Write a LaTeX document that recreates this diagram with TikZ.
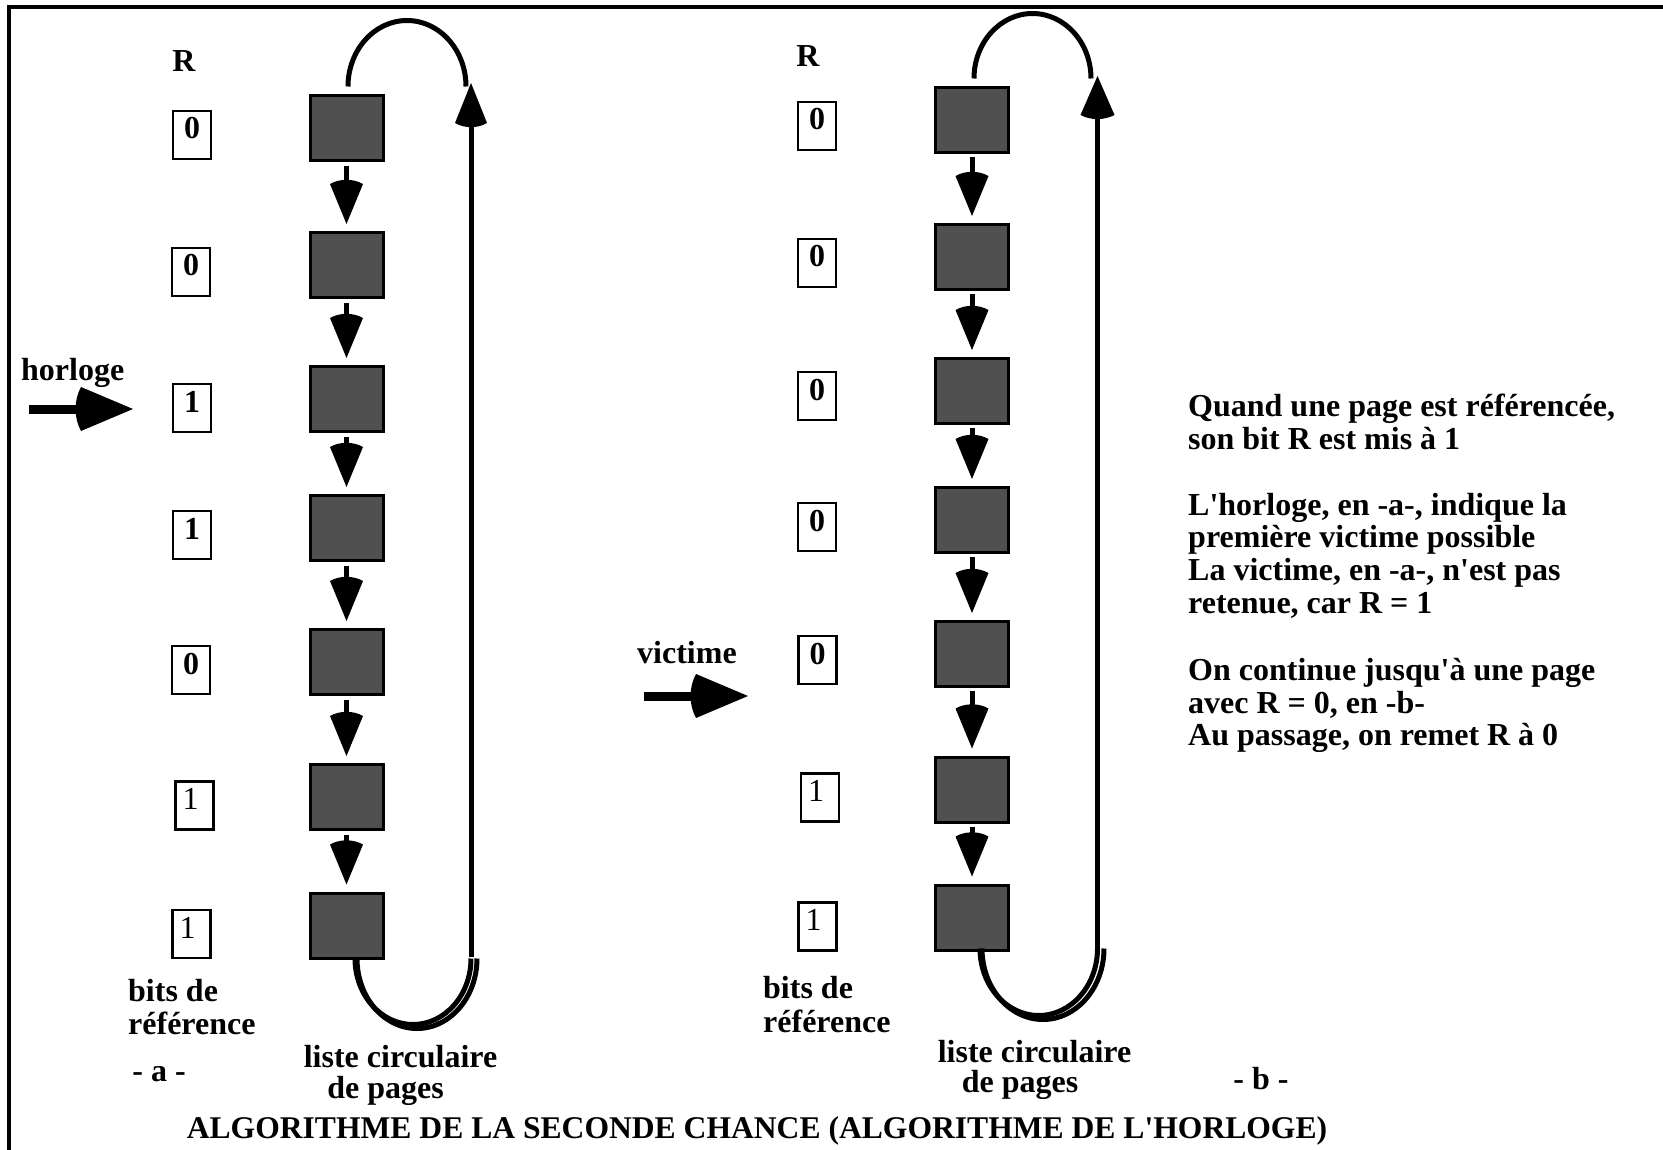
\documentclass[tikz,border=0pt]{standalone}
\usepackage{fontspec}
\setmainfont{Liberation Serif}[Ligatures=TeXOff]
\usetikzlibrary{arrows.meta}

% arrow head: a triangle whose back bulges towards the tail
\pgfdeclarearrow{
  name = Spade,
  parameters = {\the\pgfarrowlength,\the\pgfarrowwidth},
  setup code = {
    \pgfarrowssettipend{0pt}
    \pgfarrowssetlineend{-\pgfarrowlength}
    \pgfarrowssetbackend{-1.12\pgfarrowlength}
    \pgfarrowssavethe\pgfarrowlength
    \pgfarrowssavethe\pgfarrowwidth
  },
  drawing code = {
    \pgfpathmoveto{\pgfqpoint{0pt}{0pt}}
    \pgfpathlineto{\pgfpoint{-\pgfarrowlength}{.5\pgfarrowwidth}}
    \pgfpathcurveto{\pgfpoint{-1.14\pgfarrowlength}{.2\pgfarrowwidth}}{\pgfpoint{-1.14\pgfarrowlength}{-.2\pgfarrowwidth}}{\pgfpoint{-\pgfarrowlength}{-.5\pgfarrowwidth}}
    \pgfpathclose
    \pgfusepathqfill
  },
  defaults = {length = 40pt, width = 33pt}
}

\definecolor{pagefill}{RGB}{80,80,80}
\newcommand\txtbf{\fontsize{32}{33}\selectfont\bfseries}
\newcommand\txtrm{\fontsize{32}{33}\selectfont}
\newcommand\titlebf{\fontsize{31.6}{33}\selectfont\bfseries}

\begin{document}
\begin{tikzpicture}[x=1pt,y=-1pt,
  pagebox/.style={draw=black, line width=3pt, fill=pagefill,
    minimum width=73pt, minimum height=65pt, inner sep=0pt},
  bitbox/.style={draw=black, line width=2.6pt, minimum width=38pt,
    minimum height=48pt, inner sep=0pt, text height=28pt, text depth=20pt,
    font=\txtbf},
  bitreg/.style={bitbox, font=\txtrm},
  link/.style={line width=5pt, -{Spade[length=40pt,width=33pt]}},
  loopline/.style={line width=5pt},
  pointer/.style={line width=9pt, -{Spade[length=52pt,width=44pt]}},
  lbl/.style={inner sep=0pt, font=\txtbf},
  note/.style={inner sep=0pt, anchor=base west, font=\txtbf}
]
\useasboundingbox (0,0) rectangle (1663,1150);

% frame
\draw[line width=3.5pt] (9,1160) -- (9,7) -- (1670,7);

% ---------- part a ----------
\node[lbl, anchor=base] (Ra) at (184,71.5) {R};

\node[pagebox] (a1) at (346.5,128) {};
\node[pagebox] (a2) at (346.5,265) {};
\node[pagebox] (a3) at (346.5,399) {};
\node[pagebox] (a4) at (346.5,528) {};
\node[pagebox] (a5) at (346.5,662) {};
\node[pagebox] (a6) at (346.5,797) {};
\node[pagebox] (a7) at (346.5,925.5) {};

\node[bitbox] (ra1) at (192,135) {0};
\node[bitbox] (ra2) at (191,272) {0};
\node[bitbox] (ra3) at (192,408) {1};
\node[bitbox] (ra4) at (192,535) {1};
\node[bitbox] (ra5) at (191,670) {0};
\node[bitreg] (ra6) at (194.5,805.5) {\kern-8pt 1};
\node[bitreg] (ra7) at (191.5,934) {\kern-8pt 1};

\foreach \i/\j in {1/2,2/3,3/4,4/5,5/6,6/7}
  \draw[link] ([yshift=-4pt]a\i.south) -- ([yshift=7pt]a\j.north);

% circular return of list a
\coordinate (la-bot) at (471,957);
\coordinate (la-top) at (471,83);
\draw[loopline] ([xshift=1.5pt,yshift=7.5pt]a1.north)
  arc[start angle=180, end angle=0, x radius=59pt, y radius=66pt];
\draw[loopline, -{Spade[length=40pt,width=32pt]}] (la-bot) -- (la-top);
\draw[loopline] ([xshift=8.5pt,yshift=1pt]a7.south)
  arc[start angle=180, end angle=360, x radius=58pt, y radius=66pt];
\draw[loopline] ([xshift=10.5pt,yshift=1pt]a7.south)
  arc[start angle=180, end angle=360, x radius=60pt, y radius=70pt];

\node[lbl, anchor=base west] (horl) at (21,380) {horloge};
\coordinate (hs) at (29,409);
\coordinate (he) at (133,409);
\draw[pointer] (hs) -- (he);

\node[lbl, anchor=base west] (bitsa1) at (128,1001) {bits de};
\node[lbl, anchor=base west] (bitsa2) at (128,1034) {référence};
\node[lbl, anchor=base] (lista1) at (400.5,1067) {liste circulaire};
\node[lbl, anchor=base] (lista2) at (385.5,1098) {de pages};
\node[lbl, anchor=base] (parta) at (159,1081) {- a -};

% ---------- part b ----------
\node[lbl, anchor=base] (Rb) at (808,67) {R};

\node[pagebox] (b1) at (972,120) {};
\node[pagebox] (b2) at (972,257) {};
\node[pagebox] (b3) at (972,391) {};
\node[pagebox] (b4) at (972,520) {};
\node[pagebox] (b5) at (972,654) {};
\node[pagebox] (b6) at (972,789.5) {};
\node[pagebox] (b7) at (972,917.5) {};

\node[bitbox] (rb1) at (817,126) {0};
\node[bitbox] (rb2) at (817,263) {0};
\node[bitbox] (rb3) at (817,396) {0};
\node[bitbox] (rb4) at (817,527) {0};
\node[bitbox] (rb5) at (817.5,660) {0};
\node[bitreg] (rb6) at (820,797.5) {\kern-8pt 1};
\node[bitreg] (rb7) at (817.5,926.5) {\kern-8pt 1};

\foreach \i/\j in {1/2,2/3,3/4,4/5,5/6,6/7}
  \draw[link] ([yshift=-3pt]b\i.south) -- ([yshift=7pt]b\j.north);

% circular return of list b
\coordinate (lb-bot) at (1097.5,949);
\coordinate (lb-top) at (1097.5,76);
\draw[loopline] ([xshift=2pt,yshift=7.5pt]b1.north)
  arc[start angle=180, end angle=0, x radius=58.5pt, y radius=65pt];
\draw[loopline, -{Spade[length=39pt,width=34pt]}] (lb-bot) -- (lb-top);
\draw[loopline] ([xshift=8pt,yshift=3pt]b7.south)
  arc[start angle=180, end angle=360, x radius=58.75pt, y radius=67pt];
\draw[loopline] ([xshift=10pt,yshift=3pt]b7.south)
  arc[start angle=180, end angle=360, x radius=61pt, y radius=71pt];

\node[lbl, anchor=base west] (vict) at (637,663) {victime};
\coordinate (vs) at (644,696);
\coordinate (ve) at (748,696);
\draw[pointer] (vs) -- (ve);

\node[lbl, anchor=base west] (bitsb1) at (763,998) {bits de};
\node[lbl, anchor=base west] (bitsb2) at (763,1032) {référence};
\node[lbl, anchor=base] (listb1) at (1034.5,1062) {liste circulaire};
\node[lbl, anchor=base] (listb2) at (1020,1092) {de pages};
\node[lbl, anchor=base] (partb) at (1261,1089) {- b -};

% ---------- explanations ----------
\node[note] (n1) at (1188,416.7) {Quand une page est référencée,};
\node[note] (n2) at (1188,449.7) {son bit R est mis à 1};
\node[note] (n3) at (1188,515) {L'horloge, en -a-, indique la};
\node[note] (n4) at (1188,547) {première victime possible};
\node[note] (n5) at (1188,580) {La victime, en -a-, n'est pas};
\node[note] (n6) at (1188,613) {retenue, car R = 1};
\node[note] (n7) at (1188,680) {On continue jusqu'à une page};
\node[note] (n8) at (1188,713) {avec R = 0, en -b-};
\node[note] (n9) at (1188,745) {Au passage, on remet R à 0};

% title
\node[inner sep=0pt, font=\titlebf, anchor=base] (title) at (757,1138)
  {ALGORITHME DE LA SECONDE CHANCE (ALGORITHME DE L'HORLOGE)};
\end{tikzpicture}
\end{document}
